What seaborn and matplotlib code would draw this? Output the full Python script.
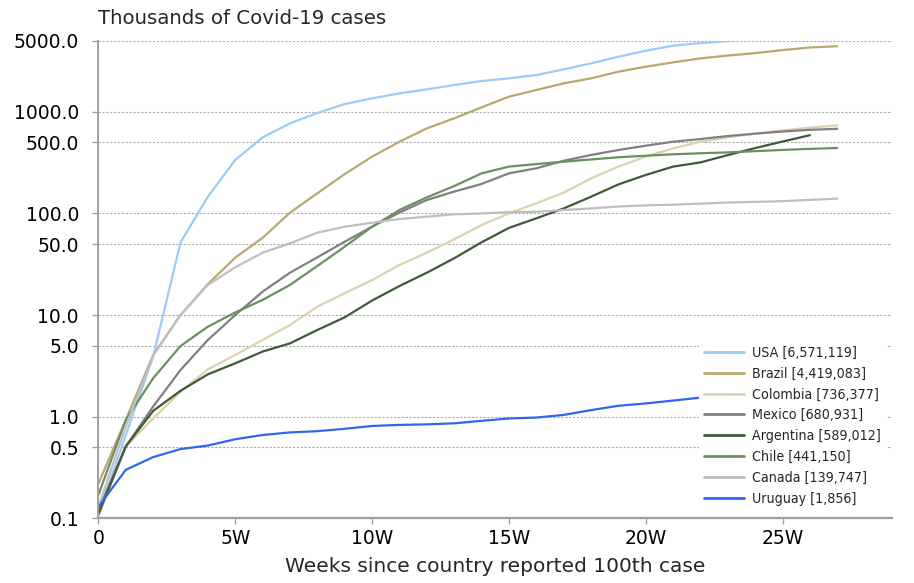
"""
Covid-19 cumulative cases (thousands) by week since each country's 100th case.
Log-scale line chart, seaborn + matplotlib.
"""
import os
import numpy as np
import pandas as pd
import matplotlib
matplotlib.use("Agg")
import matplotlib.pyplot as plt
import seaborn as sns
from matplotlib import font_manager
from matplotlib.ticker import NullLocator

# Set the default style
sns.set_theme(style="white")
plt.rcParams['font.family'] = ['DejaVu Sans']
plt.rcParams['font.size'] = 13

# Data (thousands of cases, one value per week)
countries = ["USA", "Brazil", "Colombia", "Mexico", "Argentina", "Chile", "Canada", "Uruguay"]
totals = ["6,571,119", "4,419,083", "736,377", "680,931", "589,012", "441,150", "139,747", "1,856"]

usa = [0.11, 0.66, 3.9, 52, 146, 336, 561, 770, 975, 1194, 1357, 1519, 1663, 1835,
       2010, 2134, 2301, 2617, 2999, 3485, 3993, 4475, 4750, 4960, 5400, 5800, 6200, 6571]
brazil = [0.22, 0.93, 4.05, 10.0, 20.2, 36.7, 57.6, 101.8, 158, 244, 362, 508, 687, 863,
          1107, 1409, 1639, 1906, 2134, 2483, 2780, 3067, 3357, 3580, 3780, 4050, 4300, 4419]
colombia = [0.105, 0.51, 0.96, 1.76, 2.92, 4.05, 5.69, 7.98, 12.1, 16.4, 22.1, 31.1, 41.1, 55.6,
            76.9, 100, 125.7, 160, 221, 289, 362, 437, 508, 560, 610, 655, 700, 736]
mexico = [0.12, 0.51, 1.26, 2.88, 5.69, 10.0, 17.0, 26.1, 37, 52.7, 74.1, 102, 135.6, 164,
          195, 248, 278, 330, 376, 421, 464, 508, 540, 578, 610, 640, 665, 681]
argentina = [0.11, 0.51, 1.14, 1.80, 2.61, 3.35, 4.37, 5.27, 7.13, 9.5, 13.9, 19.3, 26.1, 36.2,
             52, 72, 89.5, 112, 146, 193, 239, 289, 318, 375, 440, 510, 589]
chile = [0.17, 0.93, 2.39, 4.96, 7.69, 10.6, 14.1, 19.8, 30.4, 47.1, 74, 108, 144, 186,
         248, 289, 306, 323, 340, 357, 370, 382, 391, 399, 410, 422, 432, 441]
canada = [0.13, 0.8, 4.0, 10.0, 19.8, 29.5, 41.1, 50.8, 64.7, 74, 81.1, 88.1, 93, 98,
          100, 103, 104, 108, 112, 117, 120, 122, 125, 128, 130, 132, 136, 140]
uruguay = [0.13, 0.30, 0.40, 0.48, 0.52, 0.60, 0.66, 0.70, 0.72, 0.76, 0.81, 0.83, 0.84, 0.86,
           0.91, 0.96, 0.98, 1.04, 1.16, 1.28, 1.35, 1.44, 1.54, 1.60, 1.67, 1.73, 1.80, 1.856]

series = [usa, brazil, colombia, mexico, argentina, chile, canada, uruguay]

y_ticks = [0.1, 0.5, 1, 5, 10, 50, 100, 500, 1000, 5000]
x_ticks = [0, 5, 10, 15, 20, 25]
x_tick_labels = ["0", "5W", "10W", "15W", "20W", "25W"]

colors = ["#9dcbf7", "#b8a870", "#dcd2ad", "#808080", "#3e5a3a", "#6c8f60", "#bfbfbf", "#3366ee"]

# Narrow font for the legend if the condensed DejaVu face is installed
cond_path = None
for f in font_manager.fontManager.ttflist:
    if os.path.basename(f.fname) == "DejaVuSansCondensed.ttf":
        cond_path = f.fname
        break
if cond_path:
    legend_font = font_manager.FontProperties(fname=cond_path, size=10.2)
else:
    legend_font = font_manager.FontProperties(family='DejaVu Sans', size=9.2)

# Build a long-form table for seaborn
labels = [f"{c} [{t}]" for c, t in zip(countries, totals)]
frames = []
for label, values in zip(labels, series):
    frames.append(pd.DataFrame({
        'week': np.arange(len(values)),
        'cases': values,
        'country': label,
    }))
df = pd.concat(frames, ignore_index=True)

fig = plt.figure(figsize=(9.14, 5.83), dpi=100)
ax = fig.add_axes([0.1077, 0.111, 0.8682, 0.819])

sns.lineplot(
    data=df,
    x='week',
    y='cases',
    hue='country',
    hue_order=labels,
    palette=dict(zip(labels, colors)),
    linewidth=1.6,
    estimator=None,
    sort=False,
    ax=ax,
)

# Axes scales and ticks
ax.set_yscale('log')
ax.set_ylim(0.1, 5000)
ax.set_xlim(0, 29)
ax.set_yticks(y_ticks)
ax.set_yticklabels([f"{v:.1f}" for v in y_ticks])
ax.yaxis.set_minor_locator(NullLocator())
ax.set_xticks(x_ticks)
ax.set_xticklabels(x_tick_labels)
ax.tick_params(axis='y', which='major', left=True, length=4, width=1, color='#a0a0a0',
               pad=10, labelsize=13.5, labelcolor='black')
ax.tick_params(axis='x', which='major', bottom=True, length=4, width=1, color='#a0a0a0',
               pad=4, labelsize=13.5, labelcolor='black')

# Gridlines and spines
ax.grid(axis='y', which='major', color='#a8a8a8', linestyle=(0, (2, 1.5)), linewidth=0.8)
ax.grid(axis='x', visible=False)
for side in ['top', 'right']:
    ax.spines[side].set_visible(False)
ax.spines['left'].set_color('#a0a0a0')
ax.spines['left'].set_linewidth(1.4)
ax.spines['bottom'].set_color('#a0a0a0')
ax.spines['bottom'].set_linewidth(1.6)
ax.spines['bottom'].set_linestyle((0, (1, 0.6)))

ax.set_xlabel("Weeks since country reported 100th case", fontsize=14.5, labelpad=6)
ax.set_ylabel("")
ax.set_title("Thousands of Covid-19 cases", loc='left', fontsize=14.2, pad=12)

# Legend in the lower right, white box hides the grid behind it
fs_px = legend_font.get_size_in_points() * 100 / 72
row_h = fs_px * 0.98
leg = ax.legend(
    loc='lower right',
    bbox_to_anchor=(0.993, 0.015),
    borderaxespad=0,
    prop=legend_font,
    frameon=True,
    facecolor='white',
    edgecolor='none',
    framealpha=1,
    fancybox=False,
    handlelength=40 / fs_px,
    handletextpad=8 / fs_px,
    labelspacing=(20.7 - row_h) / fs_px,
    borderpad=5.5 / fs_px,
)
for line in leg.get_lines():
    line.set_linewidth(2)

fig.savefig("out.png", dpi=100)
